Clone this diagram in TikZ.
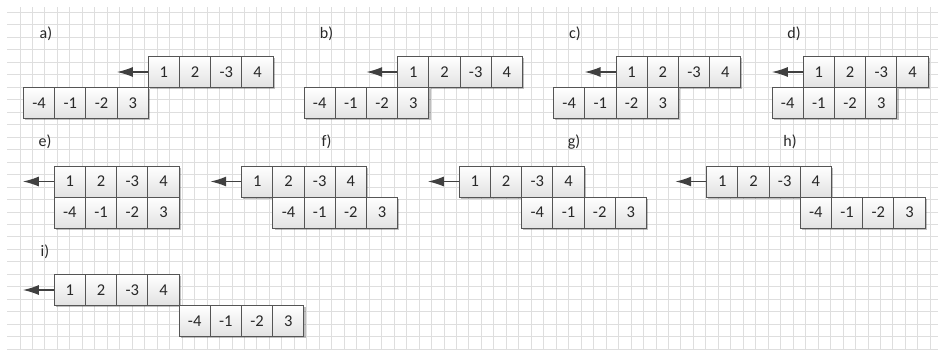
\documentclass[tikz,border=0pt]{standalone}
\usepackage{fontspec}
\setmainfont{Carlito}
\usetikzlibrary{arrows.meta,shadows}
\definecolor{gridc}{RGB}{222,222,222}
\definecolor{edgec}{RGB}{85,85,85}
\definecolor{cellbot}{RGB}{226,226,226}
\definecolor{textc}{RGB}{40,40,40}
\definecolor{arrc}{RGB}{64,64,64}
\tikzset{
  gridline/.style={draw=gridc,line width=0.9pt},
  cell/.style={draw=edgec,line width=1pt,top color=white,bottom color=cellbot,
    minimum width=31.2pt,minimum height=31pt,inner sep=0pt,text=textc,
    font=\fontsize{16.5}{16.5}\selectfont,
    drop shadow={shadow xshift=1.6pt,shadow yshift=-1.6pt,opacity=0.25,fill=black}},
  lab/.style={text=textc,inner sep=0pt,font=\fontsize{16}{16}\selectfont},
  arr/.style={draw=arrc,line width=1.5pt,-{Latex[length=16pt,width=10pt]}}
}
\begin{document}
\begin{tikzpicture}[x=1pt,y=-1pt]
\useasboundingbox[fill=white] (0,0) rectangle (938,349);
\begin{scope}
\clip (7,7) rectangle (938,349);
\foreach \i in {0,...,73} \draw[gridline] ({20+12.47*\i},7) -- ({20+12.47*\i},349);
\foreach \j in {0,...,27} \draw[gridline] (7,{12.3+12.48*\j}) -- (938,{12.3+12.48*\j});
\end{scope}
\def\w{31.2}
\foreach \p/\xt/\yt/\off/\lx/\ly in {a/148.3/56.5/-4/46/34, b/397.7/56.5/-3/326.5/34, c/616/56.5/-2/575/34, d/803.3/56.5/-1/794/34, e/54.3/166/0/45/142, f/241.7/166/1/326.5/142, g/459.3/166/2/574/142, h/706.7/166/3/790/142, i/54.3/274.5/4/45/252}{
  \node[lab] (\p-lab) at (\lx,\ly) {\p)};
  \foreach \v [count=\k] in {1,2,-3,4}
    \node[cell] (\p-t\k) at ({\xt+\w*(\k-0.5)},{\yt+15.5}) {\v};
  \foreach \v [count=\k] in {-4,-1,-2,3}
    \node[cell] (\p-b\k) at ({\xt+\w*(\off+\k-0.5)},{\yt+46.5}) {\v};
  \coordinate (\p-tip) at ([xshift=-31pt]\p-t1.west);
  \draw[arr] (\p-t1.west) -- (\p-tip);
}
\end{tikzpicture}
\end{document}
